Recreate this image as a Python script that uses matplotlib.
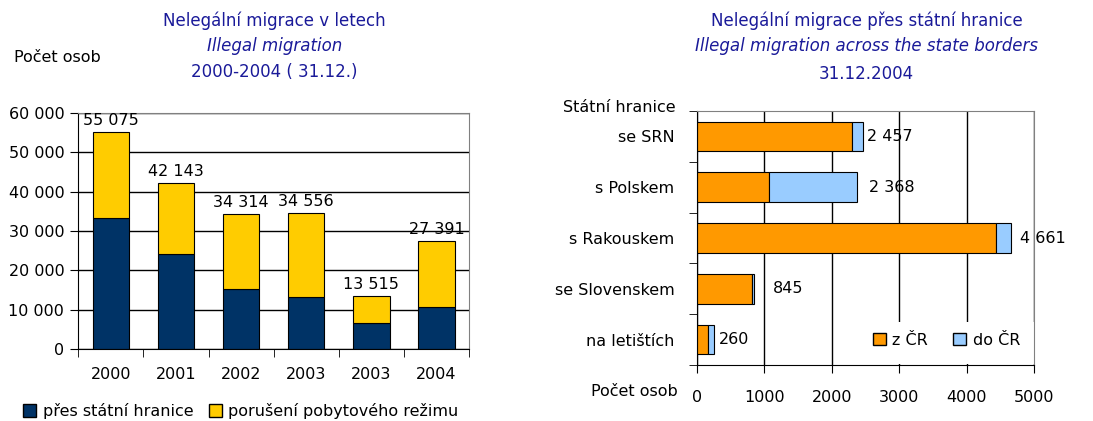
import matplotlib
matplotlib.use('Agg')
import matplotlib.pyplot as plt
from matplotlib.patches import Patch, Rectangle
from matplotlib.ticker import FixedLocator

plt.rcParams['font.family'] = ['DejaVu Sans']
plt.rcParams['font.size'] = 11.5

# left chart data - illegal migration by year
years = ['2000', '2001', '2002', '2003', '2003', '2004']
across_border = [33300, 24200, 15200, 13300, 6600, 10800]
stay_violation = [21775, 17943, 19114, 21256, 6915, 16591]
year_totals = [55075, 42143, 34314, 34556, 13515, 27391]

# right chart data - across state borders 31.12.2004
borders = ['se SRN', 's Polskem', 's Rakouskem', 'se Slovenskem', 'na letištích']
from_cr = [2295, 1075, 4428, 825, 167]
to_cr = [162, 1293, 233, 20, 93]
border_totals = [2457, 2368, 4661, 845, 260]

NAVY = '#003366'
YELLOW = '#FFCC00'
ORANGE = '#FF9900'
LBLUE = '#99CCFF'
TITLE = '#1a1a99'
GRAY = '#808080'
FS = 11.5
TFS = 12


def fmt(v):
    return f'{v:,}'.replace(',', ' ')


fig = plt.figure(figsize=(10.93, 4.21), dpi=100)

# ---------- left chart ----------
ax1 = fig.add_axes([0.0716, 0.1703, 0.3575, 0.562])
x = range(len(years))
ax1.bar(x, across_border, width=0.56, color=NAVY, edgecolor='black', lw=0.8, zorder=2)
ax1.bar(x, stay_violation, width=0.56, bottom=across_border, color=YELLOW,
        edgecolor='black', lw=0.8, zorder=2)
for i, t in enumerate(year_totals):
    ax1.annotate(fmt(t), (i, t), xytext=(0, 3), textcoords='offset points',
                 ha='center', va='bottom', fontsize=FS)
ax1.set_xlim(-0.5, len(years) - 0.5)
ax1.set_ylim(0, 60000)
ax1.set_yticks(range(0, 60001, 10000))
ax1.set_yticklabels([fmt(v) for v in range(0, 60001, 10000)], fontsize=FS)
ax1.set_xticks(list(x))
ax1.set_xticklabels(years, fontsize=FS)
ax1.xaxis.set_minor_locator(FixedLocator([i - 0.5 for i in range(len(years) + 1)]))
ax1.tick_params(axis='x', which='major', length=0, pad=13)
ax1.tick_params(axis='x', which='minor', length=6, color='black')
ax1.tick_params(axis='y', length=6, pad=4)
ax1.yaxis.grid(True, color='black', lw=1)
ax1.set_axisbelow(True)
for s in ['top', 'right']:
    ax1.spines[s].set_color(GRAY)
ax1.spines['left'].set_color('black')
ax1.spines['bottom'].set_color('black')

fig.text(0.2511, 1 - 21 / 421, 'Nelegální migrace v letech', ha='center', va='center',
         color=TITLE, fontsize=TFS)
fig.text(0.2511, 1 - 46 / 421, 'Illegal migration', ha='center', va='center',
         color=TITLE, fontsize=TFS, style='italic')
fig.text(0.2511, 1 - 72 / 421, '2000-2004 ( 31.12.)', ha='center', va='center',
         color=TITLE, fontsize=TFS)
fig.text(14 / 1093, 1 - 57 / 421, 'Počet osob', ha='left', va='center', fontsize=FS)

fig.legend(handles=[Patch(facecolor=NAVY, edgecolor='black', label='přes státní hranice'),
                    Patch(facecolor=YELLOW, edgecolor='black', label='porušení pobytového režimu')],
           loc='center', bbox_to_anchor=(0.2205, 10 / 421), ncol=2, frameon=False,
           handlelength=0.8, handleheight=0.8, handletextpad=0.4, columnspacing=1.0,
           fontsize=FS)

# ---------- right chart ----------
ax2 = fig.add_axes([0.6374, 0.133, 0.3089, 0.6033])
y = range(len(borders))
ax2.barh(y, from_cr, height=0.58, color=ORANGE, edgecolor='black', lw=0.8, zorder=2)
ax2.barh(y, to_cr, height=0.58, left=from_cr, color=LBLUE, edgecolor='black', lw=0.8, zorder=2)
label_dx = [3, 9, 6, 14, 3]
for i, t in enumerate(border_totals):
    ax2.annotate(fmt(t), (t, i), xytext=(label_dx[i], 0), textcoords='offset points',
                 ha='left', va='center', fontsize=FS)
ax2.set_xlim(0, 5000)
ax2.set_ylim(len(borders) - 0.5, -0.5)
ax2.set_xticks(range(0, 5001, 1000))
ax2.set_xticklabels([str(v) for v in range(0, 5001, 1000)], fontsize=FS)
ax2.set_yticks(list(y))
ax2.set_yticklabels(borders, fontsize=FS)
ax2.yaxis.set_minor_locator(FixedLocator([i - 0.5 for i in range(len(borders) + 1)]))
ax2.tick_params(axis='y', which='major', length=0, pad=16)
ax2.tick_params(axis='y', which='minor', length=6, color='black')
ax2.tick_params(axis='x', length=6, pad=12)
ax2.xaxis.grid(True, color='black', lw=1)
ax2.set_axisbelow(True)
for s in ['top', 'right']:
    ax2.spines[s].set_color(GRAY)
ax2.add_patch(Rectangle((0.484, 0.002), 0.514, 0.167, transform=ax2.transAxes,
                        facecolor='white', edgecolor='none', zorder=1))
ax2.legend(handles=[Patch(facecolor=ORANGE, edgecolor='black', label='z ČR'),
                    Patch(facecolor=LBLUE, edgecolor='black', label='do ČR')],
           loc='center', bbox_to_anchor=(0.74, 0.098), ncol=2, frameon=False,
           handlelength=0.8, handleheight=0.8, handletextpad=0.4, columnspacing=1.6,
           fontsize=FS)

fig.text(0.793, 1 - 21 / 421, 'Nelegální migrace přes státní hranice', ha='center',
         va='center', color=TITLE, fontsize=TFS)
fig.text(0.793, 1 - 46 / 421, 'Illegal migration across the state borders', ha='center',
         va='center', color=TITLE, fontsize=TFS, style='italic')
fig.text(0.793, 1 - 74 / 421, '31.12.2004', ha='center', va='center',
         color=TITLE, fontsize=TFS)
fig.text(676 / 1093, 1 - 108 / 421, 'Státní hranice', ha='right', va='center', fontsize=FS)
fig.text(678 / 1093, 1 - 392 / 421, 'Počet osob', ha='right', va='center', fontsize=FS)

fig.savefig('out.png', dpi=100)
